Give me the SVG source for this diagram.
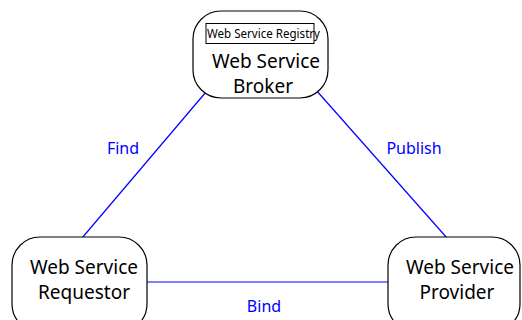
<svg xmlns="http://www.w3.org/2000/svg" width="522" height="320" viewBox="0 0 522 320">
  <style>
    .node { fill: #ffffff; stroke: #000000; stroke-width: 1.2; }
    .title { font-family: "Noto Sans", "Open Sans", sans-serif; font-size: 19px; fill: #000000; text-anchor: middle; }
    .small { font-family: "Noto Sans", "Open Sans", sans-serif; font-size: 12px; fill: #000000; }
    .link { stroke: #0000ff; stroke-width: 1.2; fill: none; }
    .label { font-family: "Noto Sans", "Open Sans", sans-serif; font-size: 16px; fill: #0000ff; text-anchor: middle; }
  </style>
  <rect width="522" height="320" fill="#ffffff"/>
  <g id="connectors">
    <line class="link" x1="206" y1="92" x2="82" y2="238"/>
    <line class="link" x1="316" y1="90" x2="447" y2="238"/>
    <line class="link" x1="147" y1="282" x2="389" y2="282"/>
    <text class="label" x="123" y="154">Find</text>
    <text class="label" x="414" y="154">Publish</text>
    <text class="label" x="264" y="312">Bind</text>
  </g>
  <g id="broker">
    <rect class="node" x="193" y="11" width="135" height="87" rx="28" ry="28"/>
    <rect x="206" y="23.5" width="108" height="20" fill="none" stroke="#000000" stroke-width="1"/>
    <text class="small" x="207" y="38" textLength="113" lengthAdjust="spacingAndGlyphs">Web Service Registry</text>
    <text class="title" x="266" y="68">Web Service</text>
    <text class="title" x="263" y="93">Broker</text>
  </g>
  <g id="requestor">
    <rect class="node" x="12" y="237" width="135" height="95" rx="28" ry="28"/>
    <text class="title" x="84" y="274">Web Service</text>
    <text class="title" x="84" y="299">Requestor</text>
  </g>
  <g id="provider">
    <rect class="node" x="388" y="237" width="132" height="95" rx="28" ry="28"/>
    <text class="title" x="460" y="274">Web Service</text>
    <text class="title" x="457" y="299">Provider</text>
  </g>
</svg>
